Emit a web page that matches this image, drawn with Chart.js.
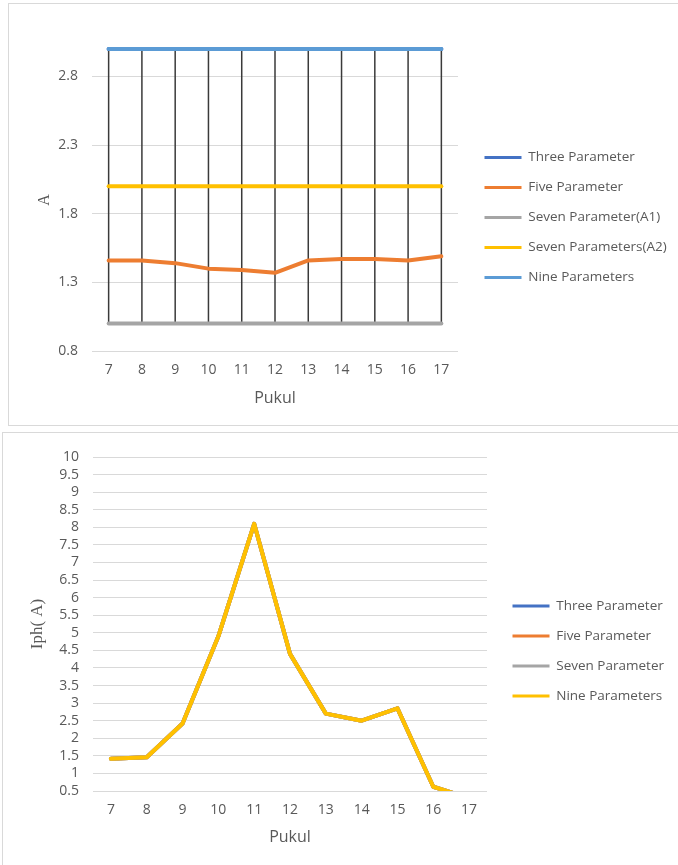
<!DOCTYPE html>
<html>
<head>
<meta charset="utf-8">
<title>Pukul</title>
<script src="https://cdn.jsdelivr.net/npm/chart.js@4.4.1/dist/chart.umd.min.js"></script>
<style>
  html, body { margin: 0; padding: 0; background: #fff; overflow: hidden; }
  .box { position: absolute; border: 1px solid #d9d9d9; background: #fff; }
  #boxA { left: 8px; top: 3px; width: 690px; height: 421px; }
  #boxIph { left: 2px; top: 432px; width: 700px; height: 440px; }
  .box canvas { position: absolute; left: 0; top: 0; }
</style>
</head>
<body>
<div class="box" id="boxA"><canvas id="chartA" width="669" height="420"></canvas></div>
<div class="box" id="boxIph"><canvas id="chartIph" width="675" height="432"></canvas></div>

<script>
const hours = ['7', '8', '9', '10', '11', '12', '13', '14', '15', '16', '17'];

// A per hour
const aThree   = [3, 3, 3, 3, 3, 3, 3, 3, 3, 3, 3];
const aFive    = [1.46, 1.46, 1.44, 1.40, 1.39, 1.37, 1.46, 1.47, 1.47, 1.46, 1.49];
const aSevenA1 = [1, 1, 1, 1, 1, 1, 1, 1, 1, 1, 1];
const aSevenA2 = [2, 2, 2, 2, 2, 2, 2, 2, 2, 2, 2];
const aNine    = [3, 3, 3, 3, 3, 3, 3, 3, 3, 3, 3];
const aTicks   = [0.8, 1.3, 1.8, 2.3, 2.8];

// Iph per hour (all four models overlap)
const iphThree = [1.42, 1.46, 2.42, 4.9, 8.1, 4.4, 2.7, 2.5, 2.85, 0.62, 0.3];
const iphFive  = [1.42, 1.46, 2.42, 4.9, 8.1, 4.4, 2.7, 2.5, 2.85, 0.62, 0.3];
const iphSeven = [1.42, 1.46, 2.42, 4.9, 8.1, 4.4, 2.7, 2.5, 2.85, 0.62, 0.3];
const iphNine  = [1.42, 1.46, 2.42, 4.9, 8.1, 4.4, 2.7, 2.5, 2.85, 0.62, 0.3];
const iphTicks = [0.5, 1, 1.5, 2, 2.5, 3, 3.5, 4, 4.5, 5, 5.5, 6, 6.5, 7, 7.5, 8, 8.5, 9, 9.5, 10];

const BLUE = '#4472c4', ORANGE = '#ed7d31', GREY = '#a5a5a5', GOLD = '#ffc000', LIGHTBLUE = '#5b9bd5';
const TEXT = '#595959', GRID = '#d9d9d9';

Chart.defaults.font.family = "'Open Sans', sans-serif";
Chart.defaults.font.size = 14;
Chart.defaults.color = TEXT;

// vertical line between the highest and lowest series at each hour
const highLowLines = {
  id: 'highLowLines',
  beforeDatasetsDraw(chart, args, opts) {
    if (!opts.enabled) return;
    const { ctx, scales: { x, y } } = chart;
    ctx.save();
    ctx.strokeStyle = opts.color;
    ctx.lineWidth = opts.width;
    chart.data.labels.forEach((_, i) => {
      const vals = chart.data.datasets.map(d => d.data[i]);
      const px = x.getPixelForValue(i);
      ctx.beginPath();
      ctx.moveTo(px, y.getPixelForValue(Math.max(...vals)));
      ctx.lineTo(px, y.getPixelForValue(Math.min(...vals)));
      ctx.stroke();
    });
    ctx.restore();
  }
};

// fixed legend column width, then nudge the items inside it
const legendBox = {
  id: 'legendBox',
  afterInit(chart, args, opts) {
    const lg = chart.legend;
    if (!lg || !opts.width) return;
    const fit = lg.fit;
    lg.fit = function () {
      fit.call(this);
      this.width = opts.width;
    };
  },
  afterLayout(chart, args, opts) {
    const lg = chart.legend;
    if (!lg) return;
    const dx = opts.x || 0, dy = opts.y || 0;
    lg.left += dx; lg.right += dx;
    lg.top += dy; lg.bottom += dy;
  }
};

function series(label, data, color, width, order, clip) {
  return {
    label, data, order, clip,
    borderColor: color,
    backgroundColor: color,
    borderWidth: width,
    borderCapStyle: 'round',
    borderJoinStyle: 'round',
    pointRadius: 0,
    pointHoverRadius: 0,
    tension: 0,
    fill: false
  };
}

function makeChart(id, datasets, cfg) {
  return new Chart(document.getElementById(id), {
    type: 'line',
    data: { labels: hours, datasets },
    options: {
      responsive: false,
      animation: false,
      layout: { padding: cfg.padding },
      plugins: {
        tooltip: { enabled: false },
        highLowLines: { enabled: !!cfg.highLow, color: '#3a3a3a', width: 1.5 },
        legendBox: cfg.legend,
        legend: {
          position: 'right',
          labels: {
            boxWidth: 37,
            boxHeight: 3,
            padding: 16.5,
            color: TEXT,
            font: { size: 13.5 },
            sort: (a, b) => a.datasetIndex - b.datasetIndex,
            generateLabels: chart =>
              Chart.defaults.plugins.legend.labels.generateLabels(chart)
                .map(item => ({ ...item, fillStyle: item.strokeStyle, lineWidth: 0 }))
          }
        }
      },
      scales: {
        x: {
          offset: true,
          grid: { display: false, drawTicks: false },
          border: { display: false },
          ticks: { padding: 11, color: TEXT, autoSkip: false, maxRotation: 0 },
          title: {
            display: true, text: 'Pukul', color: TEXT,
            font: { size: 16 }, padding: { top: 0, bottom: cfg.xTitlePad }
          },
          afterFit: s => { s.height = cfg.xHeight; }
        },
        y: {
          min: cfg.min,
          max: cfg.max,
          grid: { color: GRID, drawTicks: false },
          border: { display: false },
          ticks: {
            padding: 14, color: TEXT, autoSkip: false,
            callback: v => String(Math.round(v * 10) / 10)
          },
          afterBuildTicks: s => { s.ticks = cfg.ticks.map(v => ({ value: v })); },
          title: {
            display: true, text: cfg.yTitle, color: TEXT,
            font: { family: "'Liberation Serif', 'Times New Roman', serif", size: cfg.yTitleSize },
            padding: { top: cfg.yTitlePad, bottom: 0 }
          },
          afterFit: s => { s.width = cfg.yWidth; }
        }
      }
    },
    plugins: [highLowLines, legendBox]
  });
}

// the 3.0 lines sit on the top edge of the plot, so don't clip them
makeChart('chartA', [
  series('Three Parameter', aThree, BLUE, 4, 5, false),
  series('Five Parameter', aFive, ORANGE, 4, 4, false),
  series('Seven Parameter(A1)', aSevenA1, GREY, 4, 3, false),
  series('Seven Parameters(A2)', aSevenA2, GOLD, 4, 2, false),
  series('Nine Parameters', aNine, LIGHTBLUE, 4, 1, false)
], {
  min: 0.8, max: 3.0, ticks: aTicks,
  yTitle: 'A', yTitleSize: 16, yTitlePad: 26, yWidth: 83,
  xHeight: 73, xTitlePad: 16,
  padding: { top: 45, right: 0, bottom: 0, left: 0 },
  legend: { width: 220, x: 10, y: -19 },
  highLow: true
});

// last hour drops below 0.5 and is cut at the axis
makeChart('chartIph', [
  series('Three Parameter', iphThree, BLUE, 4, 4),
  series('Five Parameter', iphFive, ORANGE, 4, 3),
  series('Seven Parameter', iphSeven, GREY, 4, 2),
  series('Nine Parameters', iphNine, GOLD, 4, 1)
], {
  min: 0.5, max: 10, ticks: iphTicks,
  yTitle: 'Iph( A)', yTitleSize: 17, yTitlePad: 24, yWidth: 90,
  xHeight: 74, xTitlePad: 18,
  padding: { top: 24, right: 0, bottom: 0, left: 0 },
  legend: { width: 191, x: 9, y: -10 },
  highLow: false
});
</script>
</body>
</html>
